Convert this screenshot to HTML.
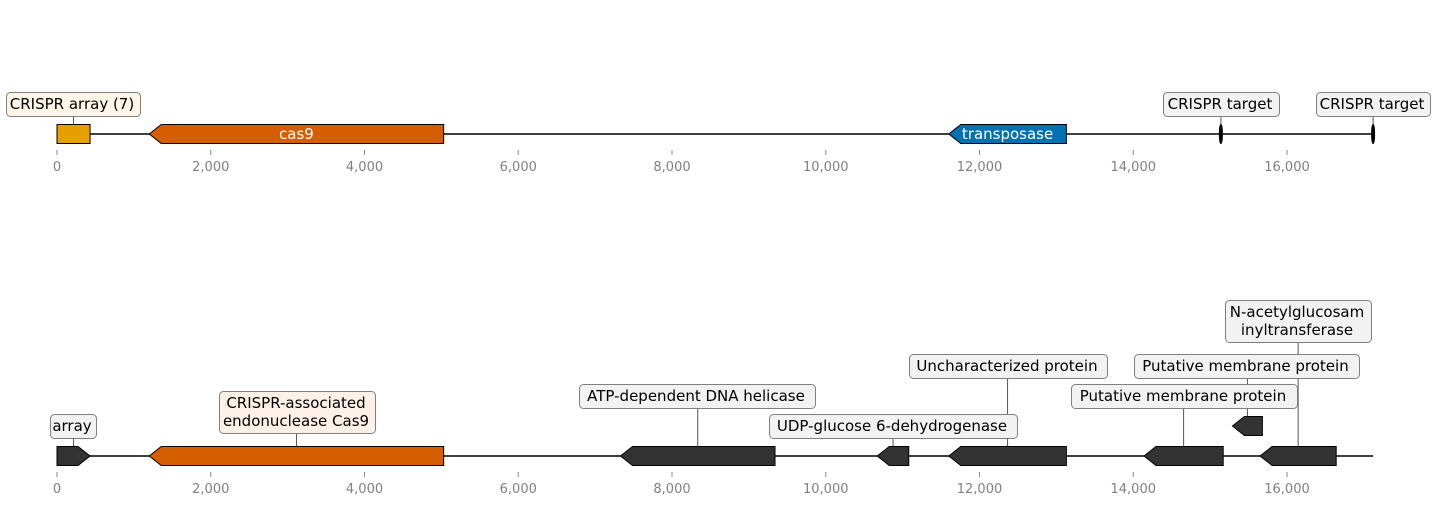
<!DOCTYPE html>
<html><head><meta charset="utf-8"><style>
body{margin:0;background:#fff}
svg{display:block;font-family:"DejaVu Sans","Liberation Sans",sans-serif}
</style></head><body>
<svg id="c" width="1436" height="505"></svg>
<script>
// Track data (bp)
const trackNames = ['top-track','bottom-track'];
const trackY = [134, 456];
const seqLength = 17120;
const ticks = [0,2000,4000,6000,8000,10000,12000,14000,16000];
const tickLabels = ['0','2,000','4,000','6,000','8,000','10,000','12,000','14,000','16,000'];
// top track features
const topStarts = [0, 1200, 11600, 15140, 17120];
const topEnds   = [430, 5030, 13130, 15140, 17120];
const topStrand = [0, -1, -1, 0, 0];
const topColors = ['#e5a000','#d55e00','#0072b2','#000','#000'];
const topLabels = ['CRISPR array (7)','cas9','transposase','CRISPR target','CRISPR target'];
const topInside = [false,true,true,false,false];
const topBoxX   = [6, 0, 0, 1163, 1316];
const topBoxW   = [134, 0, 0, 116, 114];
const topBoxFill= ['#fdf6e6','','','#f2f2f2','#f2f2f2'];
// bottom track features
const botStarts = [0, 1200, 7330, 10670, 11600, 14140, 15290, 15650];
const botEnds   = [430, 5030, 9340, 11080, 13130, 15170, 15680, 16640];
const botStrand = [1, -1, -1, -1, -1, -1, -1, -1];
const botLevel  = [0,0,0,0,0,0,1,0];
const botColors = ['#333','#d55e00','#333','#333','#333','#333','#333','#333'];
const botLabels = [['array'],['CRISPR-associated','endonuclease Cas9'],['ATP-dependent DNA helicase'],['UDP-glucose 6-dehydrogenase'],['Uncharacterized protein'],['Putative membrane protein'],['Putative membrane protein'],['N-acetylglucosam','inyltransferase']];
const botBoxX   = [50, 219, 579, 769, 909, 1071, 1134, 1225];
const botBoxW   = [46, 156, 236, 248, 198, 226, 225, 146];
const botBoxY   = [414, 391, 384, 414, 354, 384, 354, 300];
const botBoxFill= ['#f2f2f2','#fdf0e6','#f2f2f2','#f2f2f2','#f2f2f2','#f2f2f2','#f2f2f2','#f2f2f2'];

const svg=document.getElementById('c');
const NS='http://www.w3.org/2000/svg';
const X=bp=>57+bp*1230/16000;
function el(t,a,p){const e=document.createElementNS(NS,t);for(const k in a)e.setAttribute(k,a[k]);(p||svg).appendChild(e);return e;}
function feat(s,e,str,y,col,h,g){
  const x1=X(s),x2=X(e),t=12,hh=h/2;
  let d;
  if(x2-x1<1){return el('ellipse',{cx:x1,cy:y,rx:1.5,ry:hh,fill:col,stroke:'#000'},g);}
  if(str===-1)d=`M${x1},${y} L${x1+t},${y-hh} L${x2},${y-hh} L${x2},${y+hh} L${x1+t},${y+hh}Z`;
  else if(str===1)d=`M${x1},${y-hh} L${x2-t},${y-hh} L${x2},${y} L${x2-t},${y+hh} L${x1},${y+hh}Z`;
  else d=`M${x1},${y-hh} L${x2},${y-hh} L${x2},${y+hh} L${x1},${y+hh}Z`;
  return el('path',{d:d,fill:col,stroke:'#000','stroke-width':1},g);
}
function box(x,y,w,lines,fill,g){
  const h=lines.length>1?42:24;
  const r=el('rect',{x:x+0.5,y:y+0.5,width:w,height:h,rx:4,fill:fill,stroke:'#808080','stroke-width':1},g);
  
  lines.forEach((l,i)=>{const t=el('text',{x:x+w/2-1,y:y+17+i*18,'text-anchor':'middle','font-size':15,fill:'#000'},g);t.textContent=l;});
  return h;
}
trackY.forEach((ty,ti)=>{
  const g=el('g',{});
  
  const ln=el('line',{x1:X(0),x2:X(seqLength),y1:ty,y2:ty,stroke:'#000','stroke-width':1.5},g);
  
  ticks.forEach((v,i)=>{
    el('line',{x1:X(v),x2:X(v),y1:ty+16,y2:ty+21,stroke:'#888'},g);
    const t=el('text',{x:X(v),y:ty+37,'text-anchor':'middle','font-size':13,fill:'#808080'},g);
    
    t.textContent=tickLabels[i];
  });
  if(ti===0){
    topStarts.forEach((s,i)=>{
      const cx=X((s+topEnds[i])/2);
      if(!topInside[i]){
        el('line',{x1:cx,x2:cx,y1:116,y2:125,stroke:'#555'},g);
        box(topBoxX[i],92,topBoxW[i],[topLabels[i]],topBoxFill[i],g);
      }
      const f=feat(s,topEnds[i],topStrand[i],ty,topColors[i],19,g);
      
      
      if(topInside[i]){
        const t=el('text',{x:cx,y:ty+5,'text-anchor':'middle','font-size':15,fill:'#fff'},g);
        t.textContent=topLabels[i];
      }
    });
  } else {
    botStarts.forEach((s,i)=>{
      const cx=X((s+botEnds[i])/2);
      const fy=ty-botLevel[i]*30;
      const h=botLabels[i].length>1?42:24;
      el('line',{x1:cx,x2:cx,y1:botBoxY[i]+h,y2:fy-9,stroke:'#555'},g);
      const f=feat(s,botEnds[i],botStrand[i],fy,botColors[i],19,g);
      
      
    });
    botStarts.forEach((s,i)=>{box(botBoxX[i],botBoxY[i],botBoxW[i],botLabels[i],botBoxFill[i],g);});
  }
});
</script>
</body></html>
